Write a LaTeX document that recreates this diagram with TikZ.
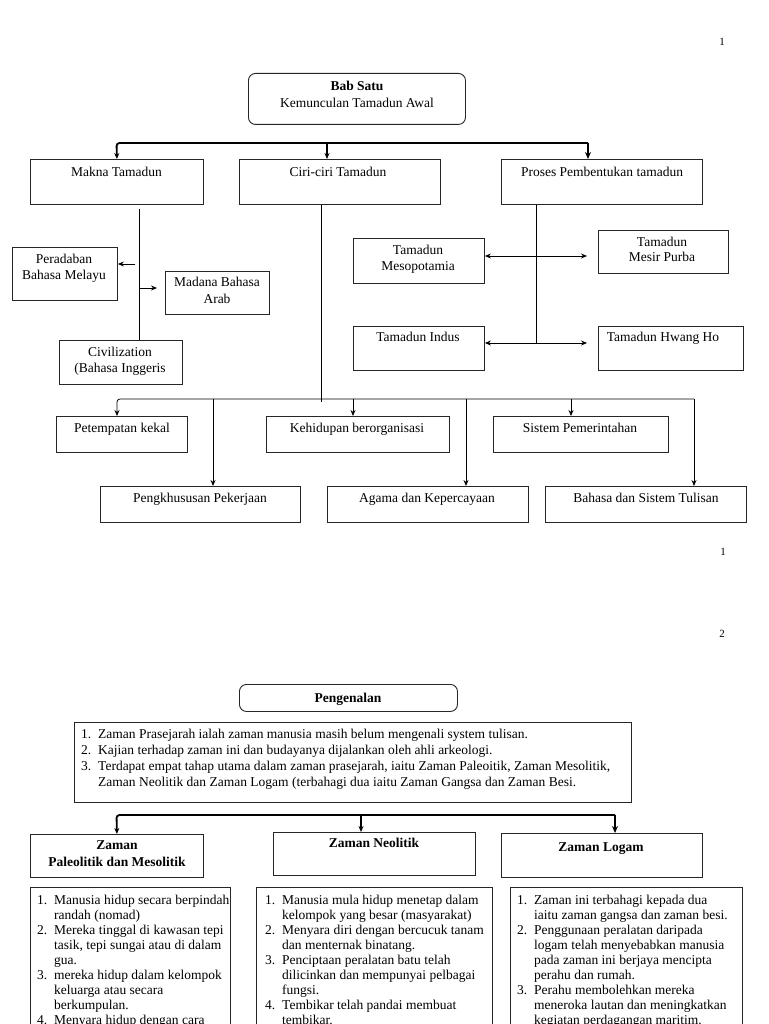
\documentclass[tikz,border=0pt]{standalone}
\usepackage{fontspec}
\setmainfont{Liberation Serif}
\usetikzlibrary{arrows.meta,calc}
\begin{document}
\begin{tikzpicture}[x=1pt,y=-1pt,
  box/.style={draw=black!85, line width=0.9pt, inner sep=0pt, anchor=north west},
  rbox/.style={box, rounded corners=7pt},
  txt/.style={anchor=north, inner sep=0pt, align=center, font=\fontsize{13.5}{16}\selectfont},
  btxt/.style={txt, font=\fontsize{13.5}{17}\selectfont\bfseries},
  ltxt/.style={anchor=north west, inner sep=0pt, font=\fontsize{13.5}{15}\selectfont},
  pnum/.style={inner sep=0pt, font=\fontsize{11}{13}\selectfont},
  tip/.style={-{Stealth[length=6pt,width=5pt]}},
  dtip/.style={{Stealth[length=6pt,width=5pt]}-{Stealth[length=6pt,width=5pt]}},
  plain/.style={line width=0.8pt},
  conn/.style={plain, tip},
  busthick/.style={line width=1.8pt, rounded corners=3pt}
]
\useasboundingbox (0,0) rectangle (768,1024);
\fill[white] (0,0) rectangle (768,1024);

% ---------------- page 1 ----------------
\node[pnum] (pn1) at (722,42) {1};

\node[rbox, minimum width=217pt, minimum height=51pt] (bab) at (248,73) {};
\node[txt, font=\fontsize{13.5}{17}\selectfont] (babt) at (357,81) {\textbf{Bab Satu}\\Kemunculan Tamadun Awal};

\node[box, minimum width=173pt, minimum height=45pt] (makna) at (30,159) {};
\node[txt] (maknat) at (116.5,167) {Makna Tamadun};
\node[box, minimum width=201pt, minimum height=45pt] (ciri) at (239,159) {};
\node[txt] (cirit) at (338,167) {Ciri-ciri Tamadun};
\node[box, minimum width=201pt, minimum height=45pt] (proses) at (501,159) {};
\node[txt] (prosest) at (602,167) {Proses Pembentukan tamadun};

% top bus
\coordinate (b1) at (116.5,143);
\coordinate (b2) at (588,143);
\coordinate (b3) at (327,143);
\draw[busthick, tip] (b2) -- (b1) -- (makna.north);
\draw[line width=1.4pt, tip] (b3) -- (b3 |- ciri.north);
\draw[line width=2pt, -{Stealth[length=7pt,width=6pt]}] (b2) -- (b2 |- proses.north);

% Makna branch
\node[box, minimum width=105pt, minimum height=53pt] (perad) at (12,247) {};
\node[txt] (peradt) at (64,254) {Peradaban\\Bahasa Melayu};
\node[box, minimum width=104pt, minimum height=43pt] (madana) at (165,271) {};
\node[txt, font=\fontsize{13.5}{17}\selectfont] (madanat) at (217,277) {Madana Bahasa\\Arab};
\node[box, minimum width=123pt, minimum height=44pt] (civ) at (59,340) {};
\node[txt] (civt) at (120,347) {Civilization\\(Bahasa Inggeris};

\coordinate (mk) at (139,209);
\draw[plain] (mk) -- (mk |- civ.north);
\coordinate (pa) at (135,264);
\draw[conn] (pa) -- (pa -| perad.east);
\coordinate (ma1) at (139,288);
\coordinate (ma2) at (157,288);
\draw[conn] (ma1) -- (ma2);

% Proses branch
\node[box, minimum width=131pt, minimum height=45pt] (mesop) at (353,238) {};
\node[txt] (mesopt) at (418,245) {Tamadun\\Mesopotamia};
\node[box, minimum width=130pt, minimum height=43pt] (mesir) at (598,230) {};
\node[txt, font=\fontsize{13.5}{15}\selectfont] (mesirt) at (662,237) {Tamadun\\Mesir Purba};
\node[box, minimum width=131pt, minimum height=44pt] (indus) at (353,326) {};
\node[txt] (indust) at (418,332) {Tamadun Indus};
\node[box, minimum width=145pt, minimum height=44pt] (hwang) at (598,326) {};
\node[txt] (hwangt) at (663,332) {Tamadun Hwang Ho};

\coordinate (pr) at (536,343);
\draw[plain] (proses.south -| pr) -- (pr);
\coordinate (mm) at (587,256);
\draw[plain, dtip] (mm -| mesop.east) -- (mm);
\coordinate (ih) at (587,343);
\draw[plain, dtip] (ih -| indus.east) -- (ih);

% Ciri branch
\coordinate (cr) at (321,402);
\draw[plain] (ciri.south -| cr) -- (cr);

\node[box, minimum width=131pt, minimum height=36pt] (pet) at (56,416) {};
\node[txt] (pett) at (122,423) {Petempatan kekal};
\node[box, minimum width=183pt, minimum height=36pt] (keh) at (266,416) {};
\node[txt] (keht) at (357,423) {Kehidupan berorganisasi};
\node[box, minimum width=175pt, minimum height=36pt] (sis) at (493,416) {};
\node[txt] (sist) at (580,423) {Sistem Pemerintahan};
\node[box, minimum width=200pt, minimum height=36pt] (peng) at (100,486) {};
\node[txt] (pengt) at (200,493) {Pengkhususan Pekerjaan};
\node[box, minimum width=201pt, minimum height=36pt] (aga) at (327,486) {};
\node[txt] (agat) at (427,493) {Agama dan Kepercayaan};
\node[box, minimum width=201pt, minimum height=36pt] (bah) at (545,486) {};
\node[txt] (baht) at (646,493) {Bahasa dan Sistem Tulisan};

\coordinate (e1) at (117,399);
\coordinate (e2) at (213,399);
\coordinate (e3) at (353,399);
\coordinate (e4) at (466,399);
\coordinate (e5) at (571,399);
\coordinate (e6) at (694,399);
\draw[conn, rounded corners=3pt] (e6) -- (e1) -- (e1 |- pet.north);
\draw[conn] (e2) -- (e2 |- peng.north);
\draw[conn] (e3) -- (e3 |- keh.north);
\draw[conn] (e4) -- (e4 |- aga.north);
\draw[conn] (e5) -- (e5 |- sis.north);
\draw[conn] (e6) -- (e6 |- bah.north);

\node[pnum] (pn1b) at (723,552) {1};

% ---------------- page 2 ----------------
\node[pnum] (pn2) at (722,634) {2};

\node[rbox, minimum width=218pt, minimum height=27pt] (pengen) at (239,684) {};
\node[btxt] (pengent) at (348,693) {Pengenalan};

\node[box, minimum width=557pt, minimum height=80pt] (intro) at (74,722) {};
\node[anchor=north west, inner sep=0pt, font=\fontsize{13.5}{16}\selectfont] (introt) at (81,727.3)
{\begin{tabular}{@{}p{17pt}@{}l@{}}
1. & Zaman Prasejarah ialah zaman manusia masih belum mengenali system tulisan.\\
2. & Kajian terhadap zaman ini dan budayanya dijalankan oleh ahli arkeologi.\\
3. & Terdapat empat tahap utama dalam zaman prasejarah, iaitu Zaman Paleoitik, Zaman Mesolitik,\\
   & Zaman Neolitik dan Zaman Logam (terbahagi dua iaitu Zaman Gangsa dan Zaman Besi.
\end{tabular}};

\node[box, minimum width=173pt, minimum height=43pt] (pal) at (30,834) {};
\node[btxt] (palt) at (117,840) {Zaman\\Paleolitik dan Mesolitik};
\node[box, minimum width=202pt, minimum height=43pt] (neo) at (273,832) {};
\node[btxt] (neot) at (374,838) {Zaman Neolitik};
\node[box, minimum width=201pt, minimum height=44pt] (log) at (501,833) {};
\node[btxt] (logt) at (601,842) {Zaman Logam};

\coordinate (z1) at (116.5,815);
\coordinate (z2) at (361,815);
\coordinate (z3) at (615,815);
\draw[busthick, tip] (z3) -- (z1) -- (pal.north);
\draw[line width=1.4pt, tip] (z2) -- (z2 |- neo.north);
\draw[line width=2pt, -{Stealth[length=7pt,width=6pt]}] (z3) -- (z3 |- log.north);

% columns
\node[box, minimum width=200pt, minimum height=160pt] (c1) at (30,887) {};
\node[box, minimum width=236pt, minimum height=160pt] (c2) at (256,887) {};
\node[box, minimum width=232pt, minimum height=160pt] (c3) at (510,887) {};

\node[ltxt] (c1t) at (37,894) {\begin{tabular}{@{}p{17pt}@{}l@{}}
1. & Manusia hidup secara berpindah\\
   & randah (nomad)\\
2. & Mereka tinggal di kawasan tepi\\
   & tasik, tepi sungai atau di dalam\\
   & gua.\\
3. & mereka hidup dalam kelompok\\
   & keluarga atau secara\\
   & berkumpulan.\\
4. & Menyara hidup dengan cara
\end{tabular}};

\node[ltxt] (c2t) at (265,894) {\begin{tabular}{@{}p{17pt}@{}l@{}}
1. & Manusia mula hidup menetap dalam\\
   & kelompok yang besar (masyarakat)\\
2. & Menyara diri dengan bercucuk tanam\\
   & dan menternak binatang.\\
3. & Penciptaan peralatan batu telah\\
   & dilicinkan dan mempunyai pelbagai\\
   & fungsi.\\
4. & Tembikar telah pandai membuat\\
   & tembikar.
\end{tabular}};

\node[ltxt] (c3t) at (517,894) {\begin{tabular}{@{}p{17pt}@{}l@{}}
1. & Zaman ini terbahagi kepada dua\\
   & iaitu zaman gangsa dan zaman besi.\\
2. & Penggunaan peralatan daripada\\
   & logam telah menyebabkan manusia\\
   & pada zaman ini berjaya mencipta\\
   & perahu dan rumah.\\
3. & Perahu membolehkan mereka\\
   & meneroka lautan dan meningkatkan\\
   & kegiatan perdagangan maritim.
\end{tabular}};
\end{tikzpicture}
\end{document}
